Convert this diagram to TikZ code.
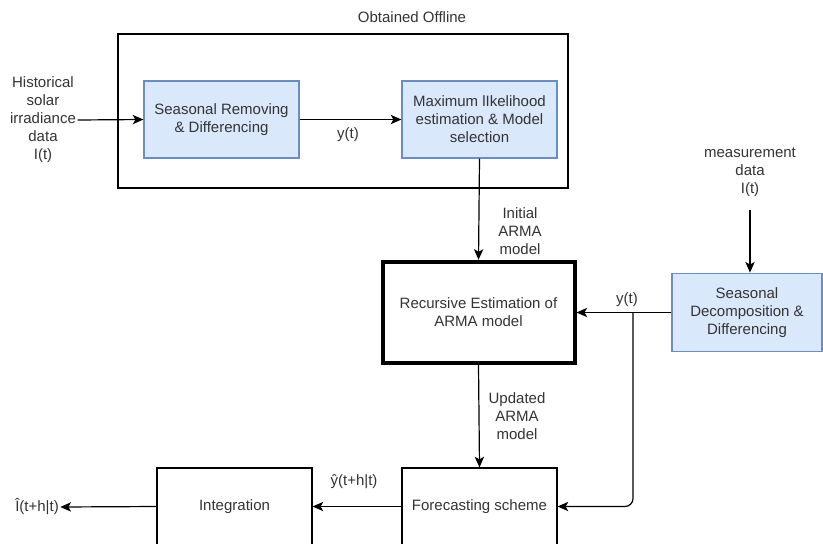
\documentclass[tikz,border=0pt]{standalone}
\usepackage{fontspec}
\setmainfont{Liberation Sans}
\usetikzlibrary{arrows.meta}
\definecolor{boxfill}{HTML}{DAE8FC}
\definecolor{boxline}{HTML}{6C8EBF}
\definecolor{txt}{HTML}{333333}
\begin{document}
\begin{tikzpicture}[x=0.75pt,y=-0.75pt,
  font=\fontsize{11.25}{13.5}\selectfont,
  every node/.style={text=txt,align=center},
  bluebox/.style={draw=boxline,fill=boxfill,line width=0.9pt,minimum width=116.25pt,minimum height=57.75pt,inner sep=2pt},
  plainbox/.style={draw=black,line width=0.9pt,minimum width=116.25pt,minimum height=57.75pt,inner sep=2pt},
  lbl/.style={inner sep=1pt},
  conn/.style={draw=black,line width=0.9pt,-{Stealth[length=8pt,width=7pt,inset=2pt]}}]
\useasboundingbox (0,0) rectangle (823,543);

% offline stage
\node[draw=black,line width=1pt,minimum width=337.5pt,minimum height=115.5pt] (offline) at (343,111) {};
\node[lbl] (offlbl) at (412,17) {Obtained Offline};
\node[lbl] (hist) at (43,120) {Historical\\solar\\irradiance\\data\\I(t)};
\node[bluebox] (A) at (221.5,119.5) {Seasonal Removing\\\& Differencing};
\node[bluebox] (B) at (479.5,119.5) {Maximum lIkelihood\\estimation \& Model\\selection};
\node[lbl] (yt1) at (348,135) {y(t)};

% online stage
\node[draw=black,line width=3pt,minimum width=144pt,minimum height=76pt] (R) at (478.5,312.5) {Recursive Estimation of\\ARMA model};
\node[bluebox,minimum width=112.5pt,minimum height=59pt] (S) at (747,312.5) {Seasonal\\Decomposition \&\\Differencing};
\node[lbl] (meas) at (750,172) {measurement\\data\\I(t)};
\coordinate (ms) at (750,210);
\node[lbl] (init) at (520,231) {Initial\\ARMA\\model};
\node[lbl] (yt2) at (627,300) {y(t)};
\coordinate (j) at (633,312.5);
\node[lbl] (upd) at (517,416) {Updated\\ARMA\\model};

\node[plainbox] (F) at (479.5,506.5) {Forecasting scheme};
\node[plainbox] (I) at (234.5,506.5) {Integration};
\node[lbl] (yhat) at (354,482) {ŷ(t+h|t)};
\node[lbl] (out) at (37,507) {Î(t+h|t)};

% connectors
\draw[conn] (hist.east) -- (A.west);
\draw[conn] (A.east) -- (B.west);
\draw[conn] (B.south) -- (R.north);
\draw[conn] (ms) -- (ms |- S.north);
\draw[conn] (S.west) -- (R.east);
\draw[conn,rounded corners=6pt] (j) -- (j |- F.east) -- (F.east);
\draw[conn] (R.south) -- (F.north);
\draw[conn] (F.west) -- (I.east);
\draw[conn] (I.west) -- (out.east);
\end{tikzpicture}
\end{document}
